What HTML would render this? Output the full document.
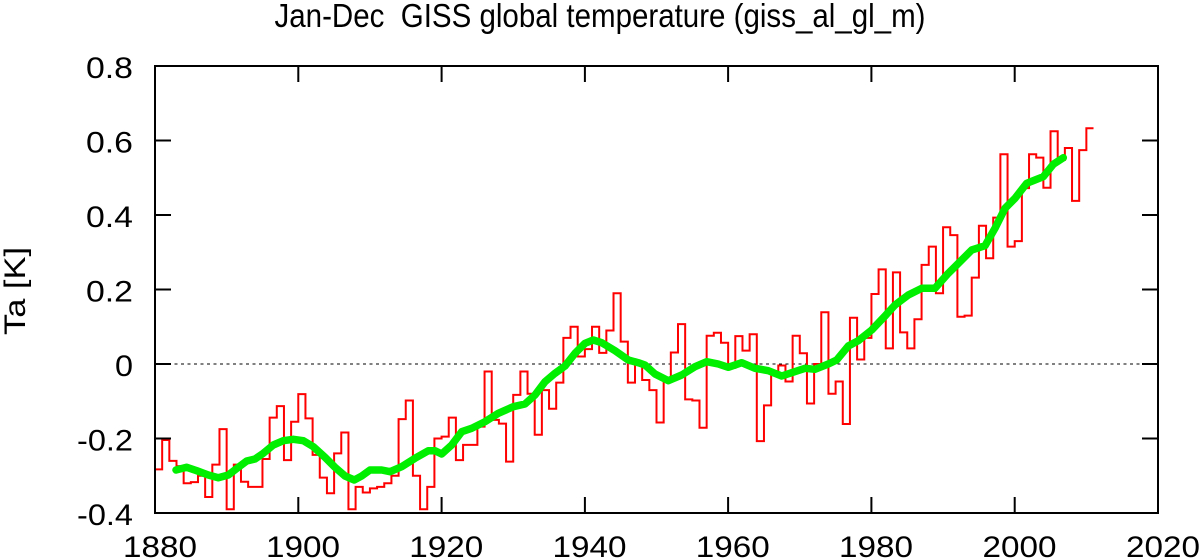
<!DOCTYPE html>
<html>
<head>
<meta charset="utf-8">
<style>
  html, body { margin: 0; padding: 0; background: #fff; }
  body { width: 1200px; height: 560px; overflow: hidden; }
  svg { display: block; }
  text { font-family: "Liberation Sans", "DejaVu Sans", sans-serif; fill: #000; }
</style>
</head>
<body>
<svg width="1200" height="560" viewBox="0 0 1200 560" xmlns="http://www.w3.org/2000/svg">
  <rect x="0" y="0" width="1200" height="560" fill="#fff"/>

  <!-- Title -->
  <text x="600" y="27" font-size="33" text-anchor="middle" textLength="651" lengthAdjust="spacingAndGlyphs" xml:space="preserve">Jan-Dec&#160; GISS global temperature (giss_al_gl_m)</text>

  <!-- Y axis label -->
  <text transform="translate(25,291) rotate(-90)" font-size="30" text-anchor="middle" textLength="88" lengthAdjust="spacingAndGlyphs">Ta [K]</text>

  <!-- zero line -->
  <line x1="155" y1="364" x2="1158" y2="364" stroke="#000" stroke-width="1" stroke-dasharray="3,3.5"/>

  <!-- red step series -->
  <g transform="translate(155,364) scale(7.1643,-0.3725)">
    <path fill="none" stroke="#ff0000" stroke-width="2" vector-effect="non-scaling-stroke" stroke-linejoin="miter"
      d="M0 -283 H1 V-204 H2 V-260 H3 V-274 H4 V-320 H5 V-317 H6 V-300 H7 V-357 H8 V-270 H9 V-175 H10 V-390 H11 V-270 H12 V-316 H13 V-330 H14 V-330 H15 V-255 H16 V-144 H17 V-113 H18 V-258 H19 V-155 H20 V-81 H21 V-146 H22 V-244 H23 V-305 H24 V-347 H25 V-240 H26 V-184 H27 V-390 H28 V-330 H29 V-345 H30 V-334 H31 V-330 H32 V-320 H33 V-300 H34 V-148 H35 V-98 H36 V-300 H37 V-390 H38 V-330 H39 V-200 H40 V-195 H41 V-144 H42 V-258 H43 V-217 H44 V-217 H45 V-168 H46 V-20 H47 V-150 H48 V-160 H49 V-262 H50 V-83 H51 V-20 H52 V-80 H53 V-190 H54 V-70 H55 V-120 H56 V-50 H57 V70 H58 V100 H59 V20 H60 V40 H61 V100 H62 V30 H63 V90 H64 V190 H65 V60 H66 V-50 H67 V0 H68 V-43 H69 V-70 H70 V-157 H71 V-38 H72 V31 H73 V107 H74 V-95 H75 V-98 H76 V-171 H77 V76 H78 V84 H79 V57 H80 V-10 H81 V75 H82 V36 H83 V80 H84 V-207 H85 V-111 H86 V-30 H87 V-4 H88 V-47 H89 V76 H90 V29 H91 V-106 H92 V0 H93 V139 H94 V-80 H95 V-47 H96 V-161 H97 V124 H98 V12 H99 V70 H100 V188 H101 V254 H102 V42 H103 V246 H104 V85 H105 V42 H106 V120 H107 V266 H108 V315 H109 V190 H110 V367 H111 V346 H112 V127 H113 V130 H114 V232 H115 V371 H116 V284 H117 V393 H118 V563 H119 V315 H120 V330 H121 V472 H122 V563 H123 V554 H124 V473 H125 V625 H126 V548 H127 V580 H128 V438 H129 V574 H130 V633 H131"/>
  </g>

  <!-- green smoothed curve -->
  <polyline fill="none" stroke="#00ee00" stroke-width="7.5" stroke-linejoin="round" stroke-linecap="round"
    points="176,470 186.7,467.3 196.7,470.7 208.3,475 218.3,477.7 228.3,475 238.3,467.3 246.7,461 255,459 263.3,453.3 273.3,445 283.3,440.7 293.3,439.3 303.3,440.7 313.3,446.7 325,457.3 335,467.3 345,476 354.3,480 361.7,476 370,470 381.7,470 390,471.7 401.7,466.7 415,458.3 428.3,450.7 435,450.7 441.7,454 451.7,445 461.7,431.7 471.7,428.3 485,421.7 498.3,413.3 513.3,406.7 525,404 535,395 545,381.7 555,373.3 565,366 575,353.3 585,343.3 593.3,340 601.7,342.7 615,350.7 628.3,360 638.3,362.7 645,365 655,374 668.3,380.7 681.7,375 695,366.7 706.7,361.7 718.3,364 728.3,367.3 741.7,362.7 755,368.3 768.3,370.7 781.7,376 791.7,372.7 805,368.3 815,369.3 828.3,364 836.7,360 848.3,346 858.3,340.7 871.7,330 885,316 895,305 908.3,295 921.7,288.3 935,288.3 948.3,273.3 955,266.7 971.7,250 985,245.7 995,228.3 1005,208.3 1015,198.3 1026.7,183.3 1035,180 1043.3,176.7 1053.3,164.3 1063.3,157.7"/>

  <!-- frame -->
  <rect x="155" y="66" width="1003" height="447" fill="none" stroke="#000" stroke-width="2"/>

  <!-- ticks -->
  <g stroke="#000" stroke-width="2">
    <line x1="298.3" y1="513" x2="298.3" y2="497"/>
    <line x1="441.6" y1="513" x2="441.6" y2="497"/>
    <line x1="584.9" y1="513" x2="584.9" y2="497"/>
    <line x1="728.1" y1="513" x2="728.1" y2="497"/>
    <line x1="871.4" y1="513" x2="871.4" y2="497"/>
    <line x1="1014.7" y1="513" x2="1014.7" y2="497"/>
    <line x1="298.3" y1="66" x2="298.3" y2="82"/>
    <line x1="441.6" y1="66" x2="441.6" y2="82"/>
    <line x1="584.9" y1="66" x2="584.9" y2="82"/>
    <line x1="728.1" y1="66" x2="728.1" y2="82"/>
    <line x1="871.4" y1="66" x2="871.4" y2="82"/>
    <line x1="1014.7" y1="66" x2="1014.7" y2="82"/>
    <line x1="155" y1="140.5" x2="171" y2="140.5"/>
    <line x1="155" y1="215" x2="171" y2="215"/>
    <line x1="155" y1="289.5" x2="171" y2="289.5"/>
    <line x1="155" y1="364" x2="171" y2="364"/>
    <line x1="155" y1="438.5" x2="171" y2="438.5"/>
    <line x1="1142" y1="140.5" x2="1158" y2="140.5"/>
    <line x1="1142" y1="215" x2="1158" y2="215"/>
    <line x1="1142" y1="289.5" x2="1158" y2="289.5"/>
    <line x1="1142" y1="364" x2="1158" y2="364"/>
    <line x1="1142" y1="438.5" x2="1158" y2="438.5"/>
  </g>

  <!-- y tick labels -->
  <g font-size="30" text-anchor="end">
    <text x="133" y="78" textLength="47" lengthAdjust="spacingAndGlyphs">0.8</text>
    <text x="133" y="152.5" textLength="47" lengthAdjust="spacingAndGlyphs">0.6</text>
    <text x="133" y="227" textLength="47" lengthAdjust="spacingAndGlyphs">0.4</text>
    <text x="133" y="301.5" textLength="47" lengthAdjust="spacingAndGlyphs">0.2</text>
    <text x="133" y="376" textLength="18" lengthAdjust="spacingAndGlyphs">0</text>
    <text x="133" y="450.5" textLength="56" lengthAdjust="spacingAndGlyphs">-0.2</text>
    <text x="133" y="525" textLength="56" lengthAdjust="spacingAndGlyphs">-0.4</text>
  </g>

  <!-- x tick labels -->
  <g font-size="30" text-anchor="middle">
    <text x="160" y="557" textLength="74" lengthAdjust="spacingAndGlyphs">1880</text>
    <text x="303" y="557" textLength="74" lengthAdjust="spacingAndGlyphs">1900</text>
    <text x="446.3" y="557" textLength="74" lengthAdjust="spacingAndGlyphs">1920</text>
    <text x="589.5" y="557" textLength="74" lengthAdjust="spacingAndGlyphs">1940</text>
    <text x="732.8" y="557" textLength="74" lengthAdjust="spacingAndGlyphs">1960</text>
    <text x="876" y="557" textLength="74" lengthAdjust="spacingAndGlyphs">1980</text>
    <text x="1019.5" y="557" textLength="74" lengthAdjust="spacingAndGlyphs">2000</text>
    <text x="1163" y="557" textLength="74" lengthAdjust="spacingAndGlyphs">2020</text>
  </g>
</svg>
</body>
</html>
